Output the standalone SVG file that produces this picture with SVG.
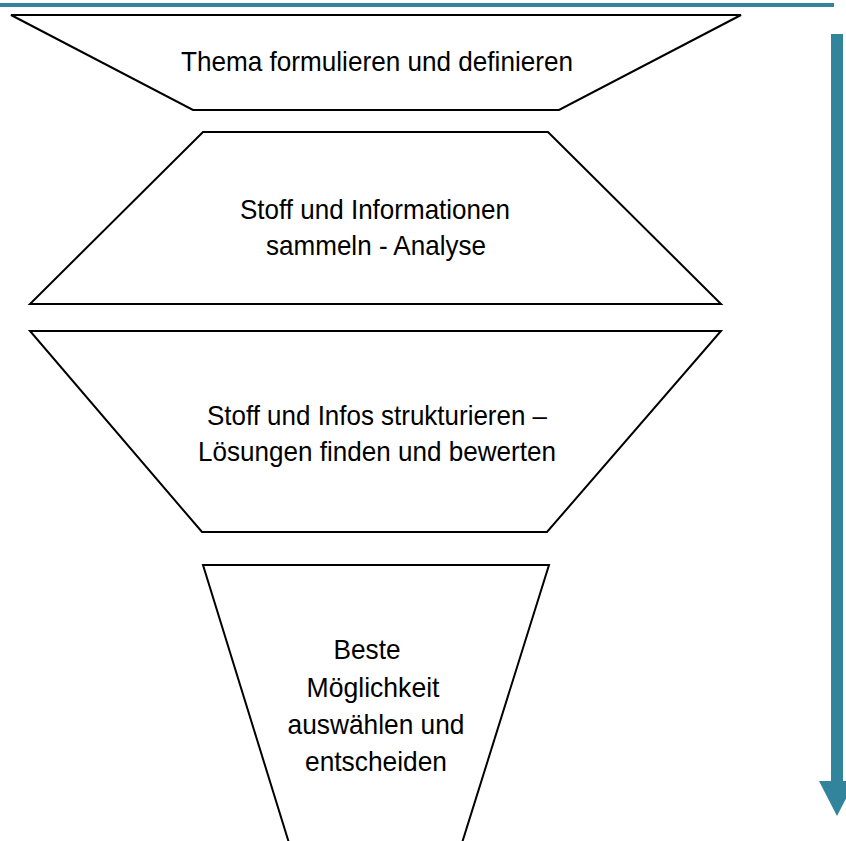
<svg xmlns="http://www.w3.org/2000/svg" width="846" height="841" viewBox="0 0 846 841">
<style>
.shape{fill:#ffffff;stroke:#000000;stroke-width:2;stroke-linejoin:miter}
.lbl{font-family:"Liberation Sans",Arial,sans-serif;font-size:28px;fill:#000000;text-anchor:middle}
.teal{fill:#31849b}
</style>
<rect x="0" y="0" width="846" height="841" fill="#ffffff"/>
<rect class="teal" x="0" y="3" width="834" height="4"/>
<g id="node1">
<polygon class="shape" points="11,15 741,15 559,110 193,110"/>
<text class="lbl" x="377" y="71" textLength="392" lengthAdjust="spacingAndGlyphs">Thema formulieren und definieren</text>
</g>
<g id="node2">
<polygon class="shape" points="203,132 548,132 721,304 30,304"/>
<text class="lbl" x="375" y="219" textLength="270" lengthAdjust="spacingAndGlyphs">Stoff und Informationen</text>
<text class="lbl" x="376" y="255" textLength="220" lengthAdjust="spacingAndGlyphs">sammeln - Analyse</text>
</g>
<g id="node3">
<polygon class="shape" points="30,331 721,331 547,532 202,532"/>
<text class="lbl" x="377" y="425" textLength="340" lengthAdjust="spacingAndGlyphs">Stoff und Infos strukturieren –</text>
<text class="lbl" x="377" y="461" textLength="358" lengthAdjust="spacingAndGlyphs">Lösungen finden und bewerten</text>
</g>
<g id="node4">
<path class="shape" d="M289,843 L203,565 L549,565 L462,843"/>
<text class="lbl" x="367" y="659" textLength="67" lengthAdjust="spacingAndGlyphs">Beste</text>
<text class="lbl" x="373" y="697" textLength="133" lengthAdjust="spacingAndGlyphs">Möglichkeit</text>
<text class="lbl" x="376" y="734" textLength="177" lengthAdjust="spacingAndGlyphs">auswählen und</text>
<text class="lbl" x="376" y="771" textLength="142" lengthAdjust="spacingAndGlyphs">entscheiden</text>
</g>
<g id="connectors">
<rect class="teal" x="831" y="34" width="12" height="748"/>
<polygon class="teal" points="819,781 855,781 837,816"/>
</g>
</svg>
